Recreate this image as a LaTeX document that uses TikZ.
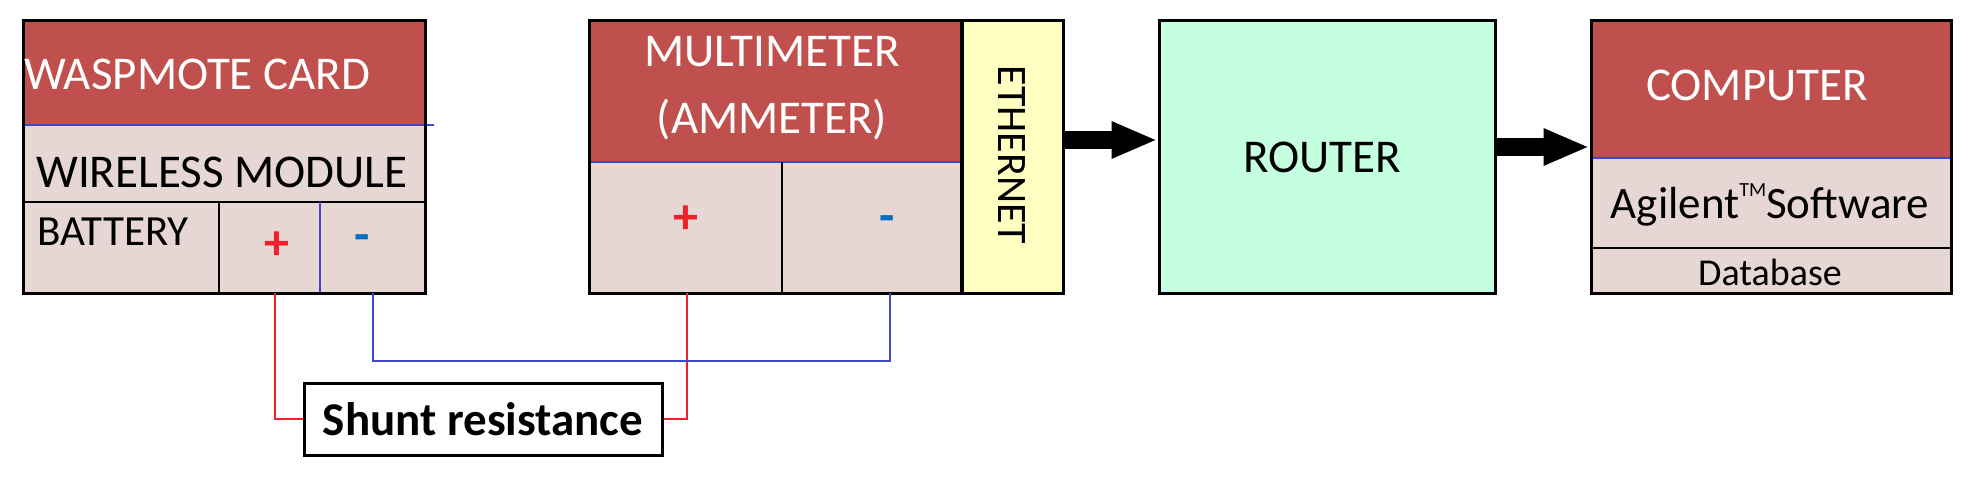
\documentclass[tikz,border=0pt]{standalone}
\usepackage{fontspec}
\setmainfont{Carlito}
\usetikzlibrary{arrows.meta}
\definecolor{hdr}{HTML}{C0504D}
\definecolor{pnk}{HTML}{E6D6D4}
\definecolor{eth}{HTML}{FFFFC2}
\definecolor{rtr}{HTML}{C4FFE0}
\definecolor{bl}{HTML}{4046C8}
\definecolor{rd}{HTML}{F0202A}
\definecolor{mn}{HTML}{0070C0}
\newcommand{\fs}[1]{\fontsize{#1}{#1}\selectfont}
\begin{document}
\begin{tikzpicture}[x=1pt,y=-1pt,
  box/.style={draw=black,line width=3pt,inner sep=0pt,minimum width=#1},
  blk/.style={draw=black,line width=2.5pt},
  bln/.style={draw=bl,line width=2.5pt},
  wire/.style={line width=2.5pt},
  big/.style={-{Triangle[length=46pt,width=34pt]},line width=18pt},
  t/.style={inner sep=0pt,font=\fs{47}}]
\useasboundingbox (0,0) rectangle (1978,480);
% fills
\fill[hdr] (23,20) rectangle (425,125);
\fill[pnk] (23,125) rectangle (425,293);
\fill[hdr] (589,20) rectangle (962,162);
\fill[pnk] (589,162) rectangle (962,293);
\fill[eth] (962,20) rectangle (1063,293);
\fill[rtr] (1159,20) rectangle (1495,293);
\fill[hdr] (1591,20) rectangle (1951,158);
\fill[pnk] (1591,158) rectangle (1951,293);
% inner lines
\draw[bln] (23,125) -- (434,125);
\draw[blk] (23,202) -- (425,202);
\draw[blk] (219,202) -- (219,293);
\draw[bln] (320,202) -- (320,293);
\draw[bln] (589,162) -- (962,162);
\draw[blk] (782,162) -- (782,293);
\draw[black,line width=4pt] (962,20) -- (962,293);
\draw[bln] (1591,158) -- (1951,158);
\draw[blk] (1591,248) -- (1951,248);
% outlines
\node[box=402pt,minimum height=273pt] (wasp) at (224,156.5) {};
\node[box=474pt,minimum height=273pt] (multi) at (826,156.5) {};
\node[box=336pt,minimum height=273pt] (router) at (1327,156.5) {};
\node[box=360pt,minimum height=273pt] (comp) at (1771,156.5) {};
\node[box=358pt,minimum height=72pt,fill=white] (shunt) at (483,419) {};
% texts
\node[t,anchor=west,text=white] (wt) at (24,74) {WASPMOTE CARD};
\node[t,anchor=west] (wm) at (36,172) {WIRELESS MODULE};
\node[t,anchor=west,font=\fs{43}] (bat) at (37,232) {BATTERY};
\node[inner sep=0pt,text=rd,font=\bfseries\fs{50}] (wplus) at (277,246) {+};
\node[inner sep=0pt,text=mn,font=\bfseries\fs{50}] (wminus) at (362,243) {-};
\node[t,text=white] (mt) at (772,52) {MULTIMETER};
\node[t,text=white] (am) at (772,120) {(AMMETER)};
\node[inner sep=0pt,text=rd,font=\bfseries\fs{50}] (mplus) at (686,220) {+};
\node[inner sep=0pt,text=mn,font=\bfseries\fs{50}] (mminus) at (887,224) {-};
\node[t,rotate=-90,font=\fs{42}] (et) at (1012,155) {ETHERNET};
\node[t] (rt) at (1322,157) {ROUTER};
\node[t,text=white] (ct) at (1757,85) {COMPUTER};
\node[t,font=\fs{45}] (ag) at (1770,205) {Agilent\raisebox{22pt}{\fs{20}TM}Software};
\node[t,font=\fs{38}] (db) at (1770,272) {Database};
\node[inner sep=0pt,font=\bfseries\fs{47}] (st) at (483,419) {Shunt resistance};
% wire coordinates
\coordinate (wr) at (275,293);
\coordinate (wb) at (373,293);
\coordinate (mr) at (687,293);
\coordinate (mb) at (890,293);
\draw[wire,rd] (wr) |- (shunt.west);
\draw[wire,rd] (shunt.east) -| (mr);
\draw[wire,bl] (wb) |- (630,361) -| (mb);
% big arrows
\draw[big] (multi.east |- 0,140) -- (router.west |- 0,140);
\draw[big] (router.east |- 0,147) -- (comp.west |- 0,147);
\end{tikzpicture}
\end{document}
